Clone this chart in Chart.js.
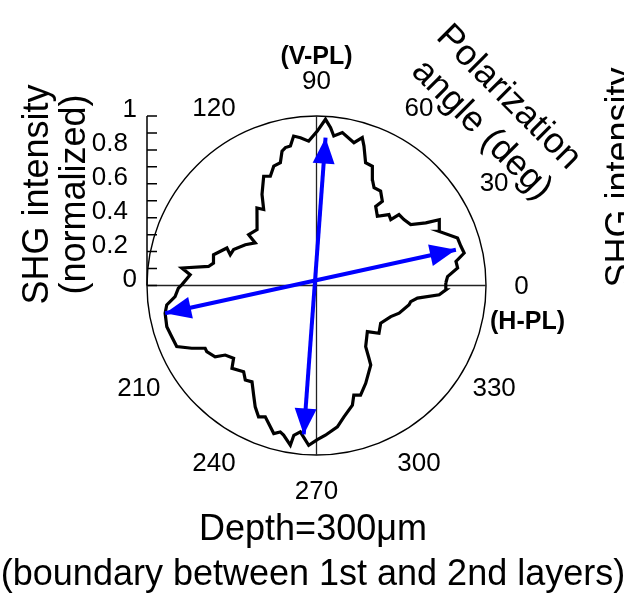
<!DOCTYPE html>
<html><head><meta charset="utf-8">
<script src="https://cdn.jsdelivr.net/npm/chart.js@4"></script>
<style>html,body{margin:0;padding:0;background:#fff;}#wrap{width:624px;height:597px;}</style>
</head><body><div id="wrap"><canvas id="c" width="624" height="597"></canvas></div>
<script>
// Polarization angle (deg) and normalized SHG intensity of the measured curve
const curveAngles = [1.1,3.9,7.1,9.8,12.4,15.2,18.6,23.8,28.2,29.8,32.9,37.0,40.7,41.6,44.4,48.7,53.2,52.0,55.8,59.5,
  62.2,64.9,68.2,71.2,72.8,75.3,80.4,83.4,84.9,86.9,89.7,93.1,96.2,98.7,100.6,102.7,104.4,106.4,109.7,112.9,
  115.8,120.9,124.8,127.5,136.8,143.2,145.2,150.2,156.6,160.4,157.3,163.4,167.7,170.0,172.6,175.1,179.7,181.1,184.5,187.4,
  190.4,195.4,199.5,203.6,206.7,209.4,211.1,215.1,217.3,221.3,224.4,229.8,233.0,236.2,240.2,243.2,246.2,248.7,253.9,256.1,
  257.6,260.7,261.4,263.7,267.2,270.3,273.4,278.4,281.8,286.7,288.8,291.9,296.7,304.3,305.8,308.8,317.8,322.6,329.6,337.3,
  341.5,348.2,350.3,352.9,355.7,358.1];
const curveValues = [0.763,0.775,0.839,0.835,0.892,0.883,0.878,0.791,0.822,0.743,0.662,0.646,0.642,0.586,0.598,0.544,0.583,0.631,0.673,0.669,
  0.707,0.777,0.780,0.869,0.913,0.871,0.915,0.888,0.935,0.982,0.911,0.853,0.877,0.892,0.837,0.834,0.818,0.755,0.748,0.700,
  0.716,0.626,0.546,0.577,0.481,0.500,0.440,0.484,0.533,0.540,0.573,0.634,0.622,0.647,0.801,0.748,0.795,0.815,0.837,0.891,
  0.908,0.916,0.906,0.900,0.824,0.754,0.756,0.731,0.677,0.651,0.698,0.666,0.698,0.684,0.746,0.802,0.847,0.832,0.909,0.890,
  0.904,0.955,0.894,0.869,0.944,0.909,0.885,0.843,0.792,0.737,0.683,0.697,0.646,0.568,0.529,0.463,0.405,0.464,0.439,0.475,
  0.514,0.558,0.564,0.600,0.726,0.764];
// Blue double-headed arrows (angle deg, length)
const hArrowAngles = [14.4, 190.4];
const hArrowValues = [0.849, 0.908];
const vArrowAngles = [86.5, 265.1];
const vArrowValues = [0.874, 0.882];
// Axis ticks
const angleTicks = [0, 30, 60, 90, 120, 210, 240, 270, 300, 330];
const radialTickMarks = [0, 0.1, 0.2, 0.3, 0.4, 0.5, 0.6, 0.7, 0.8, 0.9, 1];
const radialLabels = [0, 0.2, 0.4, 0.6, 0.8, 1];
const angleTitle = ['Polarization', 'angle (deg)'];
const radialTitle = ['SHG intensity', '(normalized)'];
const captionLines = ['Depth=300\u03bcm', '(boundary between 1st and 2nd layers)'];
const vLabel = '(V-PL)';
const hLabel = '(H-PL)';

const FONT = '"Liberation Sans", Arial, Helvetica, sans-serif';
const rad = d => d * Math.PI / 180;
function toXY(angles, values) {
  return angles.map((a, i) => ({ x: values[i] * Math.cos(rad(a)), y: values[i] * Math.sin(rad(a)) }));
}
const curvePts = toXY(curveAngles, curveValues);
curvePts.push(curvePts[0]);

const polarFrame = {
  id: 'polarFrame',
  beforeDraw(chart) {
    const ctx = chart.ctx;
    ctx.save(); ctx.fillStyle = '#fff'; ctx.fillRect(0, 0, chart.width, chart.height); ctx.restore();
  },
  beforeDatasetsDraw(chart) {
    const { ctx, scales: { x, y } } = chart;
    const cx = x.getPixelForValue(0), cy = y.getPixelForValue(0);
    const R = x.getPixelForValue(1) - cx;
    const Ry = cy - y.getPixelForValue(1);
    ctx.save();
    // outer circle
    ctx.strokeStyle = '#000'; ctx.lineWidth = 1.4;
    ctx.beginPath(); ctx.ellipse(cx, cy, R, Ry, 0, 0, 2 * Math.PI); ctx.stroke();
    // cross lines
    ctx.lineWidth = 1.3; ctx.strokeStyle = '#222';
    ctx.beginPath();
    ctx.moveTo(x.getPixelForValue(-1), cy); ctx.lineTo(x.getPixelForValue(1), cy);
    ctx.moveTo(cx, y.getPixelForValue(1)); ctx.lineTo(cx, y.getPixelForValue(-1));
    ctx.stroke();
    // radial axis on the left
    const ax = x.getPixelForValue(-1);
    ctx.strokeStyle = '#000'; ctx.lineWidth = 1.5;
    ctx.beginPath();
    ctx.moveTo(ax, y.getPixelForValue(0)); ctx.lineTo(ax, y.getPixelForValue(1));
    radialTickMarks.forEach(v => {
      const py = y.getPixelForValue(v);
      ctx.moveTo(ax, py); ctx.lineTo(ax + 10, py);
    });
    ctx.stroke();
    ctx.fillStyle = '#000';
    ctx.font = '26px ' + FONT; ctx.textAlign = 'right'; ctx.textBaseline = 'middle';
    radialLabels.forEach(v => {
      const off = Number.isInteger(v) ? 10 : 19;
      ctx.fillText(String(v), ax - off, y.getPixelForValue(v) - 6);
    });
    // angle labels
    ctx.textAlign = 'center';
    angleTicks.forEach(a => {
      const lr = R * 1.21;
      ctx.fillText(String(a), cx + lr * Math.cos(rad(a)), cy - lr * Math.sin(rad(a)) + 1);
    });
    ctx.font = 'bold 25px ' + FONT;
    ctx.fillText(vLabel, cx, cy - R * 1.345);
    ctx.fillText(hLabel, cx + R * 1.245, cy + R * 0.215);
    // radial title (rotated)
    ctx.font = '36px ' + FONT;
    ctx.save();
    ctx.translate(ax, cy - 91);
    ctx.rotate(-Math.PI / 2);
    ctx.textAlign = 'center'; ctx.textBaseline = 'alphabetic';
    ctx.fillText(radialTitle[0], 0, -99);
    ctx.fillText(radialTitle[1], 0, -62);
    ctx.restore();
    // angle title (rotated 45deg)
    ctx.save();
    ctx.translate(cx + 192, cy - 188);
    ctx.rotate(Math.PI / 4);
    ctx.textAlign = 'center'; ctx.textBaseline = 'middle';
    ctx.fillText(angleTitle[0], 0, 0);
    ctx.fillText(angleTitle[1], 4, 42);
    ctx.restore();
    // caption
    ctx.textAlign = 'center'; ctx.textBaseline = 'alphabetic';
    ctx.fillText(captionLines[0], cx - 3.5, cy + 254);
    ctx.fillText(captionLines[1], cx - 3.5, cy + 299);
    // neighbouring panel's axis title (clipped at the right edge)
    ctx.save();
    ctx.translate(chart.width - 19, cy - 108);
    ctx.rotate(-Math.PI / 2);
    ctx.textAlign = 'center'; ctx.textBaseline = 'alphabetic';
    ctx.fillText(radialTitle[0], 0, 26);
    ctx.restore();
    ctx.restore();
  },
  afterDatasetsDraw(chart) {
    const ctx = chart.ctx;
    chart.data.datasets.forEach((ds, i) => {
      if (!ds.arrow) return;
      const pts = chart.getDatasetMeta(i).data;
      const ends = [[pts[0], pts[1]], [pts[1], pts[0]]];
      ctx.save();
      ctx.fillStyle = ds.borderColor;
      ends.forEach(([tip, from]) => {
        const dx = tip.x - from.x, dy = tip.y - from.y;
        const L = Math.hypot(dx, dy), ux = dx / L, uy = dy / L;
        const len = 26, hw = 11;
        const bx = tip.x - ux * len, by = tip.y - uy * len;
        ctx.beginPath();
        ctx.moveTo(tip.x, tip.y);
        ctx.lineTo(bx - uy * hw, by + ux * hw);
        ctx.lineTo(bx + uy * hw, by - ux * hw);
        ctx.closePath();
        ctx.fill();
      });
      ctx.restore();
    });
  }
};

new Chart(document.getElementById('c'), {
  type: 'scatter',
  data: {
    datasets: [
      { label: 'H', arrow: true, data: toXY(hArrowAngles, hArrowValues), showLine: true, borderColor: '#0000ff', borderWidth: 4, pointRadius: 0, fill: false },
      { label: 'V', arrow: true, data: toXY(vArrowAngles, vArrowValues), showLine: true, borderColor: '#0000ff', borderWidth: 4, pointRadius: 0, fill: false },
      { label: 'SHG', data: curvePts, showLine: true, borderColor: '#000', borderWidth: 3.2, pointRadius: 0, fill: false, tension: 0, borderJoinStyle: 'miter' }
    ]
  },
  options: {
    responsive: false,
    animation: false,
    devicePixelRatio: 1,
    layout: { padding: { left: 147, right: 138, top: 116, bottom: 142 } },
    plugins: { legend: { display: false }, tooltip: { enabled: false } },
    scales: {
      x: { type: 'linear', min: -1, max: 1, display: false },
      y: { type: 'linear', min: -1, max: 1, display: false }
    },
    elements: { point: { radius: 0 } }
  },
  plugins: [polarFrame]
});
</script>
</body></html>
